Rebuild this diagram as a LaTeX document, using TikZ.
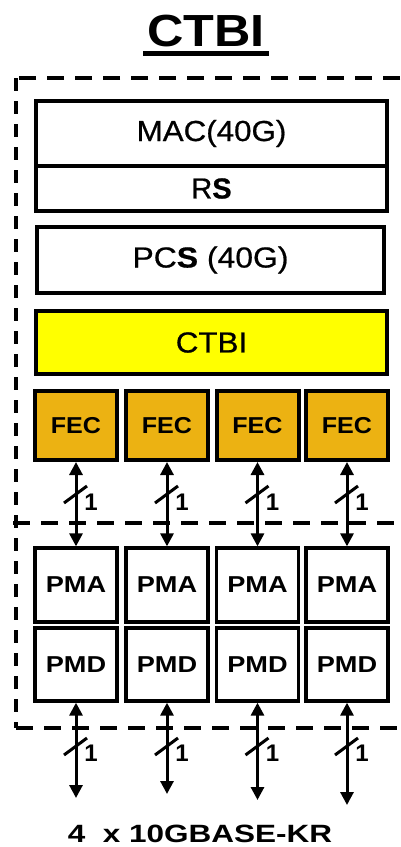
\documentclass[tikz,border=0pt]{standalone}
\usepackage{fontspec}
\usepackage{graphicx}
\setmainfont{Liberation Sans}
\newfontfamily\medfont[FakeBold=0.6]{Liberation Sans}
\usetikzlibrary{arrows.meta,calc}
\definecolor{fecorange}{RGB}{236,178,18}
\definecolor{ctbiyellow}{RGB}{255,255,0}
\newcommand\wtxt[2]{\scalebox{#1}[1]{#2}}
\begin{document}
\begin{tikzpicture}[x=1pt,y=-1pt,
  box/.style={draw,line width=3.3pt,inner sep=0pt,align=center},
  bigtxt/.style={font=\fontsize{29pt}{29pt}\medfont},
  smalltxt/.style={font=\fontsize{23pt}{23pt}\selectfont\bfseries},
  fecbox/.style={box,line width=4pt,fill=fecorange,minimum width=82pt,minimum height=69pt,smalltxt},
  phybox/.style={box,minimum width=82pt,smalltxt},
  biarrow/.style={line width=3pt,{Triangle[width=13pt,length=13pt]}-{Triangle[width=13pt,length=13pt]}},
  slashline/.style={line width=3pt},
  onelabel/.style={font=\fontsize{24pt}{24pt}\selectfont\bfseries,inner sep=0pt},
  hdash/.style={line width=3.5pt,dash pattern=on 17pt off 11pt},
  vdash/.style={line width=3.5pt,dash pattern=on 13pt off 10pt}]
\useasboundingbox[fill=white] (0,0) rectangle (400,847);

% title
\node[font=\fontsize{45pt}{45pt}\selectfont\bfseries,inner sep=0pt] (title) at (206,31) {\wtxt{1.12}{CTBI}};
\coordinate (ulL) at (143,53);
\coordinate (ulR) at (269,53);
\draw[line width=5pt] (ulL) -- (ulR);

% dashed frame
\coordinate (fTR) at (400,78);
\coordinate (fTL) at (16,78);
\coordinate (fBL) at (16,728);
\coordinate (fBR) at (400,728);
\coordinate (mL) at (13,523);
\coordinate (mR) at (400,523);
\draw[hdash] (fTR) -- (fTL);
\draw[vdash] (fTL) -- (fBL);
\draw[hdash] (fBL) -- (fBR);
\draw[hdash] (mL) -- (mR);

% upper stack
\node[box,bigtxt,minimum width=351pt,minimum height=65pt] (mac) at (211.5,133.5) {\wtxt{1.08}{MAC(40G)}};
\node[box,bigtxt,minimum width=351pt,minimum height=45pt] (rs) at (211.5,188.5) {\wtxt{1.0}{R{\bfseries S}}};
\node[box,bigtxt,minimum width=347pt,minimum height=66pt] (pcs) at (210.5,260) {\wtxt{1.1}{PC{\bfseries S} (40G)}};
\node[box,bigtxt,line width=3.5pt,fill=ctbiyellow,minimum width=351pt,minimum height=63pt] (ctbi) at (211.5,342.5) {\wtxt{1.08}{CTBI}};

% lanes
\foreach \i/\x/\e in {1/76/798, 2/167/794, 3/257.5/800, 4/347/805}{
  \node[fecbox] (fec\i) at (\x,425.5) {\wtxt{1.09}{FEC}};
  \node[phybox,minimum height=74pt] (pma\i) at (\x,585) {\wtxt{1.18}{PMA}};
  \node[phybox,minimum height=73pt] (pmd\i) at (\x,664.5) {\wtxt{1.18}{PMD}};
  \coordinate (end\i) at (\x,\e);
  \draw[biarrow] (fec\i.south) -- (pma\i.north);
  \draw[biarrow] (pmd\i.south) -- (end\i);
  \coordinate (s\i) at (\x,494);
  \coordinate (t\i) at (\x,746);
  \draw[slashline] ($(s\i)+(-12,9)$) -- ($(s\i)+(11,-8)$);
  \draw[slashline] ($(t\i)+(-12,9)$) -- ($(t\i)+(11,-8)$);
  \node[onelabel] (oa\i) at ($(s\i)+(15,8)$) {1};
  \node[onelabel] (ob\i) at ($(t\i)+(15,7)$) {1};
}

% bottom label
\node[font=\fontsize{25pt}{25pt}\selectfont\bfseries,inner sep=0pt] (kr) at (200,834) {\wtxt{1.26}{4\ \ x 10GBASE-KR}};
\end{tikzpicture}
\end{document}
